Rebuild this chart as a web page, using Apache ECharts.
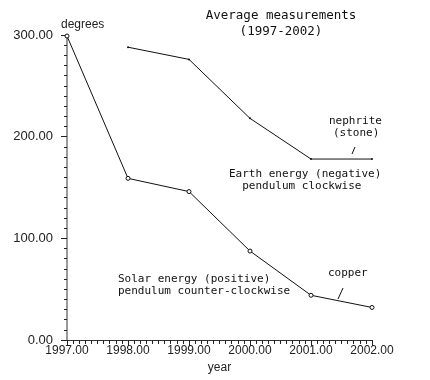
<!DOCTYPE html>
<html>
<head>
<meta charset="utf-8">
<script src="https://cdn.jsdelivr.net/npm/echarts@6/dist/echarts.min.js"></script>
<style>html,body{margin:0;padding:0;background:#fff}#c{width:430px;height:380px}</style>
</head>
<body>
<div id="c"></div>
<script>
var years = [1997, 1998, 1999, 2000, 2001, 2002];
var copper = [299, 159, 146, 87.5, 44, 32];
var nephrite = [null, 288, 276, 218, 178, 178];
var titleLines = ['Average measurements', '(1997-2002)'];
var yName = 'degrees';
var xName = 'year';

function pairs(vals) {
  var out = [];
  for (var i = 0; i < years.length; i++) {
    if (vals[i] != null) out.push([years[i], vals[i]]);
  }
  return out;
}

var sans = 'Liberation Sans';
var monoFont = '"DejaVu Sans Mono"';
var chart = echarts.init(document.getElementById('c'));
chart.setOption({
  backgroundColor: '#fff',
  animation: false,
  grid: {left: 67, right: 58, top: 35, bottom: 40},
  xAxis: {
    type: 'value', min: 1997, max: 2002, interval: 1,
    name: xName, nameLocation: 'middle', nameGap: 22,
    nameTextStyle: {fontFamily: sans, fontSize: 12, color: '#222'},
    axisLine: {lineStyle: {color: '#333', width: 1}},
    axisTick: {show: true, length: 6, lineStyle: {color: '#222'}},
    minorTick: {show: true, splitNumber: 10, length: 4, lineStyle: {color: '#222'}},
    splitLine: {show: false},
    axisLabel: {fontFamily: sans, fontSize: 12, color: '#222', margin: 5, formatter: function (v) { return v.toFixed(2); }}
  },
  yAxis: {
    type: 'value', min: 0, max: 300, interval: 100,
    name: yName, nameLocation: 'end', nameGap: 4,
    nameTextStyle: {fontFamily: sans, fontSize: 12, color: '#222', align: 'left', padding: [0, 0, 0, -6]},
    axisLine: {show: true, lineStyle: {color: '#999', width: 2}},
    axisTick: {show: true, length: 6, lineStyle: {color: '#222'}},
    minorTick: {show: true, splitNumber: 10, length: 3, lineStyle: {color: '#222'}},
    splitLine: {show: false},
    axisLabel: {fontFamily: sans, fontSize: 13, color: '#222', margin: 14, formatter: function (v) { return v.toFixed(2); }}
  },
  series: [
    {
      name: 'copper', type: 'line', data: pairs(copper),
      symbol: 'circle', symbolSize: 4, showAllSymbol: true,
      lineStyle: {color: '#111', width: 1},
      itemStyle: {color: '#fff', borderColor: '#111', borderWidth: 1}
    },
    {
      name: 'nephrite', type: 'line', data: pairs(nephrite),
      symbol: 'circle', symbolSize: 2, showAllSymbol: true,
      lineStyle: {color: '#111', width: 1},
      itemStyle: {color: '#111', borderColor: '#111', borderWidth: 0}
    }
  ],
  graphic: [
    {type: 'text', x: 281, y: 8, style: {text: titleLines.join('\n'), font: '12.5px ' + monoFont, fill: '#111', textAlign: 'center', lineHeight: 16}},
    {type: 'text', left: 329, top: 116, style: {text: 'nephrite', font: '11px ' + monoFont, fill: '#111'}},
    {type: 'text', left: 333, top: 128, style: {text: '(stone)', font: '11px ' + monoFont, fill: '#111'}},
    {type: 'line', shape: {x1: 352, y1: 154, x2: 355, y2: 147}, style: {stroke: '#111', lineWidth: 1}},
    {type: 'text', left: 229, top: 168, style: {text: 'Earth energy (negative)\n  pendulum clockwise', font: '11px ' + monoFont, fill: '#111', lineHeight: 12}},
    {type: 'text', left: 118, top: 273, style: {text: 'Solar energy (positive)\npendulum counter-clockwise', font: '11px ' + monoFont, fill: '#111', lineHeight: 12}},
    {type: 'text', left: 328, top: 268, style: {text: 'copper', font: '11px ' + monoFont, fill: '#111'}},
    {type: 'line', shape: {x1: 338, y1: 299, x2: 343, y2: 288}, style: {stroke: '#111', lineWidth: 1}}
  ]
});
</script>
</body>
</html>
